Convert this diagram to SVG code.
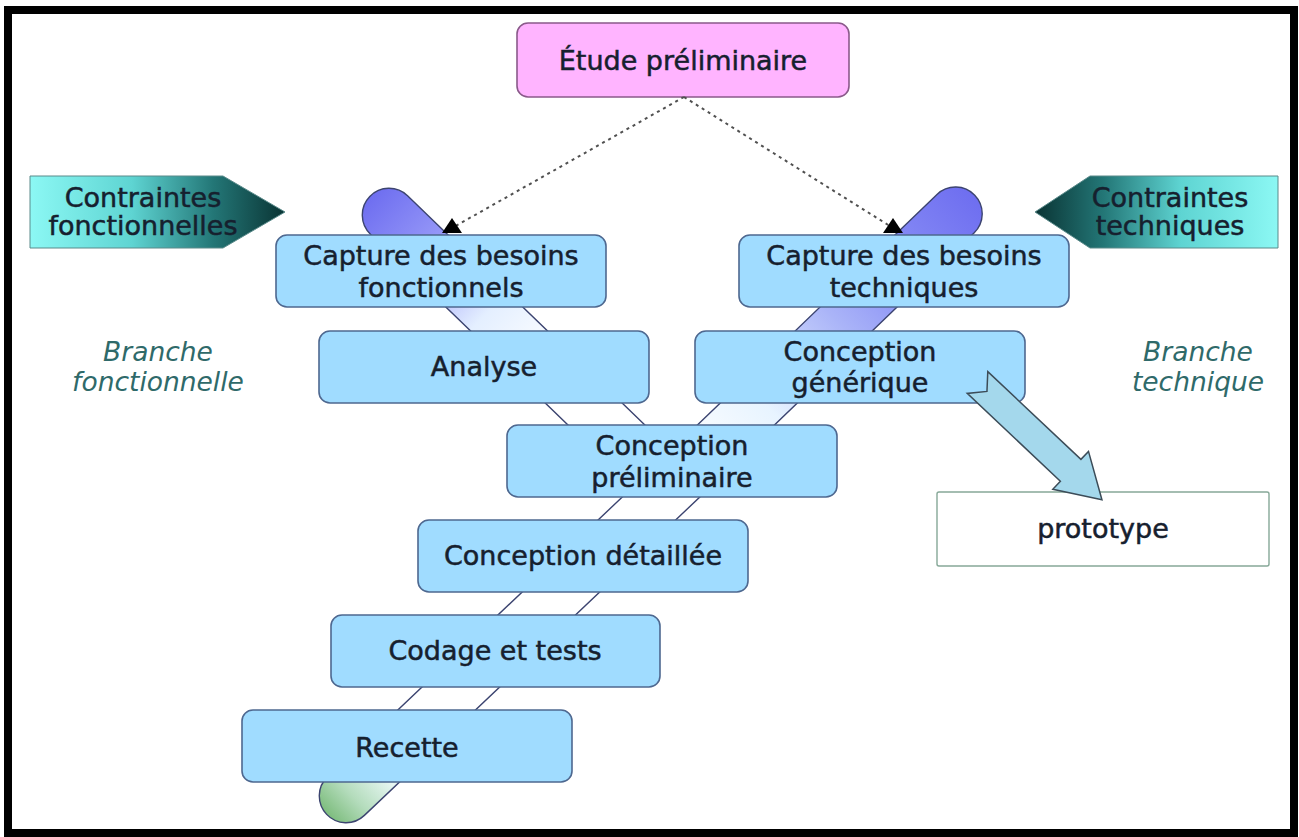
<svg xmlns="http://www.w3.org/2000/svg" width="1299" height="837" viewBox="0 0 1299 837">
  <style>
    .box { fill: #a0dcff; stroke: #4e6890; stroke-width: 1.6; }
    .lbl { font-family: "DejaVu Sans", Verdana, sans-serif; font-size: 27px; fill: #16202e; stroke: #16202e; stroke-width: 0.5; text-anchor: middle; }
    .branch { font-family: "DejaVu Sans", Verdana, sans-serif; font-size: 26.5px; font-style: italic; fill: #2f6a6a; text-anchor: middle; }
    .band { stroke: #3c4470; stroke-width: 1.4; }
    .dotted { fill: none; stroke: #505050; stroke-width: 2; stroke-dasharray: 3 4; marker-end: url(#tri); }
  </style>
  <defs>
    <linearGradient id="gCfLeft" x1="0" y1="0" x2="1" y2="0">
      <stop offset="0" stop-color="#8cf8f4"/>
      <stop offset="0.4" stop-color="#5ed4d2"/>
      <stop offset="0.72" stop-color="#237676"/>
      <stop offset="1" stop-color="#0a3434"/>
    </linearGradient>
    <linearGradient id="gCfRight" x1="1" y1="0" x2="0" y2="0">
      <stop offset="0" stop-color="#8cf8f4"/>
      <stop offset="0.4" stop-color="#5ed4d2"/>
      <stop offset="0.72" stop-color="#237676"/>
      <stop offset="1" stop-color="#0a3434"/>
    </linearGradient>
    <linearGradient id="gBandLeft" gradientUnits="userSpaceOnUse" x1="-27" y1="0" x2="367" y2="0">
      <stop offset="0" stop-color="#6e6ef0"/>
      <stop offset="0.22" stop-color="#9a9cf8"/>
      <stop offset="0.42" stop-color="#e4efff"/>
      <stop offset="0.62" stop-color="#ffffff"/>
      <stop offset="1" stop-color="#ffffff"/>
    </linearGradient>
    <linearGradient id="gBandRight" gradientUnits="userSpaceOnUse" x1="-27" y1="0" x2="369" y2="0">
      <stop offset="0" stop-color="#6e6ef0"/>
      <stop offset="0.3" stop-color="#8c92f6"/>
      <stop offset="0.47" stop-color="#aab4f8"/>
      <stop offset="0.75" stop-color="#e8f4ff"/>
      <stop offset="1" stop-color="#ffffff"/>
    </linearGradient>
    <linearGradient id="gBandLow" gradientUnits="userSpaceOnUse" x1="-27" y1="0" x2="503" y2="0">
      <stop offset="0" stop-color="#7cbc7c"/>
      <stop offset="0.06" stop-color="#b4dcbc"/>
      <stop offset="0.13" stop-color="#e6f6f2"/>
      <stop offset="0.25" stop-color="#ffffff"/>
      <stop offset="1" stop-color="#ffffff"/>
    </linearGradient>
    <marker id="tri" markerUnits="userSpaceOnUse" viewBox="0 0 20 16" markerWidth="20" markerHeight="16" refX="10" refY="10" orient="0">
      <path d="M10,0 L20,15 L0,15 Z" fill="#000"/>
    </marker>
  </defs>

  <rect x="0" y="0" width="1299" height="837" fill="#ffffff"/>
  <rect x="8" y="10" width="1286" height="823" fill="none" stroke="#000" stroke-width="8"/>

  <!-- Y-shaped branch bands behind the phases -->
  <g id="branches">
    <path class="band" fill="url(#gBandLeft)" transform="translate(389,215) rotate(44)" d="M0,-26.7 L367,-26.7 L367,26.7 L0,26.7 A26.7,26.7 0 0 1 0,-26.7 Z"/>
    <path class="band" fill="url(#gBandRight)" transform="translate(955.5,213.7) rotate(136.1)" d="M0,-26.7 L369,-26.7 L369,26.7 L0,26.7 A26.7,26.7 0 0 1 0,-26.7 Z"/>
    <path class="band" fill="url(#gBandLow)" transform="translate(346,796) rotate(-43.5)" d="M0,-26.7 L503,-26.7 L503,26.7 L0,26.7 A26.7,26.7 0 0 1 0,-26.7 Z"/>
  </g>

  <g id="etude-preliminaire">
    <rect x="517" y="23" width="332" height="74" rx="11" fill="#ffb4ff" stroke="#8a5a8a" stroke-width="1.6"/>
    <text class="lbl" x="683" y="70">Étude préliminaire</text>
  </g>

  <g id="contraintes-fonctionnelles">
    <path d="M30,176 L223,176 L285,212 L223,248 L30,248 Z" fill="url(#gCfLeft)" stroke="#5a8a8a" stroke-width="1"/>
    <text class="lbl" x="143" y="207">Contraintes</text>
    <text class="lbl" x="143" y="235">fonctionnelles</text>
  </g>

  <g id="contraintes-techniques">
    <path d="M1278,176 L1090,176 L1035,212 L1090,248 L1278,248 Z" fill="url(#gCfRight)" stroke="#5a8a8a" stroke-width="1"/>
    <text class="lbl" x="1170" y="207">Contraintes</text>
    <text class="lbl" x="1170" y="235">techniques</text>
  </g>

  <g id="branche-fonctionnelle">
    <text class="branch" x="158" y="361">Branche</text>
    <text class="branch" x="158" y="391">fonctionnelle</text>
  </g>

  <g id="branche-technique">
    <text class="branch" x="1198" y="361">Branche</text>
    <text class="branch" x="1198" y="391">technique</text>
  </g>

  <g id="capture-fonctionnels">
    <rect class="box" x="276" y="235" width="330" height="72" rx="11"/>
    <text class="lbl" x="441" y="265">Capture des besoins</text>
    <text class="lbl" x="441" y="297">fonctionnels</text>
  </g>

  <g id="capture-techniques">
    <rect class="box" x="739" y="235" width="330" height="72" rx="11"/>
    <text class="lbl" x="904" y="265">Capture des besoins</text>
    <text class="lbl" x="904" y="297">techniques</text>
  </g>

  <g id="analyse">
    <rect class="box" x="319" y="331" width="330" height="72" rx="11"/>
    <text class="lbl" x="484" y="376">Analyse</text>
  </g>

  <g id="conception-generique">
    <rect class="box" x="695" y="331" width="330" height="72" rx="11"/>
    <text class="lbl" x="860" y="361">Conception</text>
    <text class="lbl" x="860" y="392">générique</text>
  </g>

  <g id="conception-preliminaire">
    <rect class="box" x="507" y="425" width="330" height="72" rx="11"/>
    <text class="lbl" x="672" y="455">Conception</text>
    <text class="lbl" x="672" y="487">préliminaire</text>
  </g>

  <g id="conception-detaillee">
    <rect class="box" x="418" y="520" width="330" height="72" rx="11"/>
    <text class="lbl" x="583" y="565">Conception détaillée</text>
  </g>

  <g id="codage-tests">
    <rect class="box" x="331" y="615" width="329" height="72" rx="11"/>
    <text class="lbl" x="495" y="660">Codage et tests</text>
  </g>

  <g id="recette">
    <rect class="box" x="242" y="710" width="330" height="72" rx="11"/>
    <text class="lbl" x="407" y="757">Recette</text>
  </g>

  <g id="prototype">
    <rect x="937" y="492" width="332" height="74" rx="2" fill="#ffffff" stroke="#86a898" stroke-width="1.4"/>
    <text class="lbl" x="1103" y="538">prototype</text>
  </g>

  <!-- connectors -->
  <g id="connectors">
    <path class="dotted" d="M684,97 L452,228"/>
    <path class="dotted" d="M684,97 L893,228"/>
    <path transform="translate(977.5,382.5) rotate(43.3)" d="M0,-15 L128,-15 L128,-26 L171,0 L128,26 L128,15 L0,15 L13,0 Z" fill="#a4d8ec" stroke="#3c4c58" stroke-width="1.5" stroke-linejoin="miter"/>
  </g>
</svg>
